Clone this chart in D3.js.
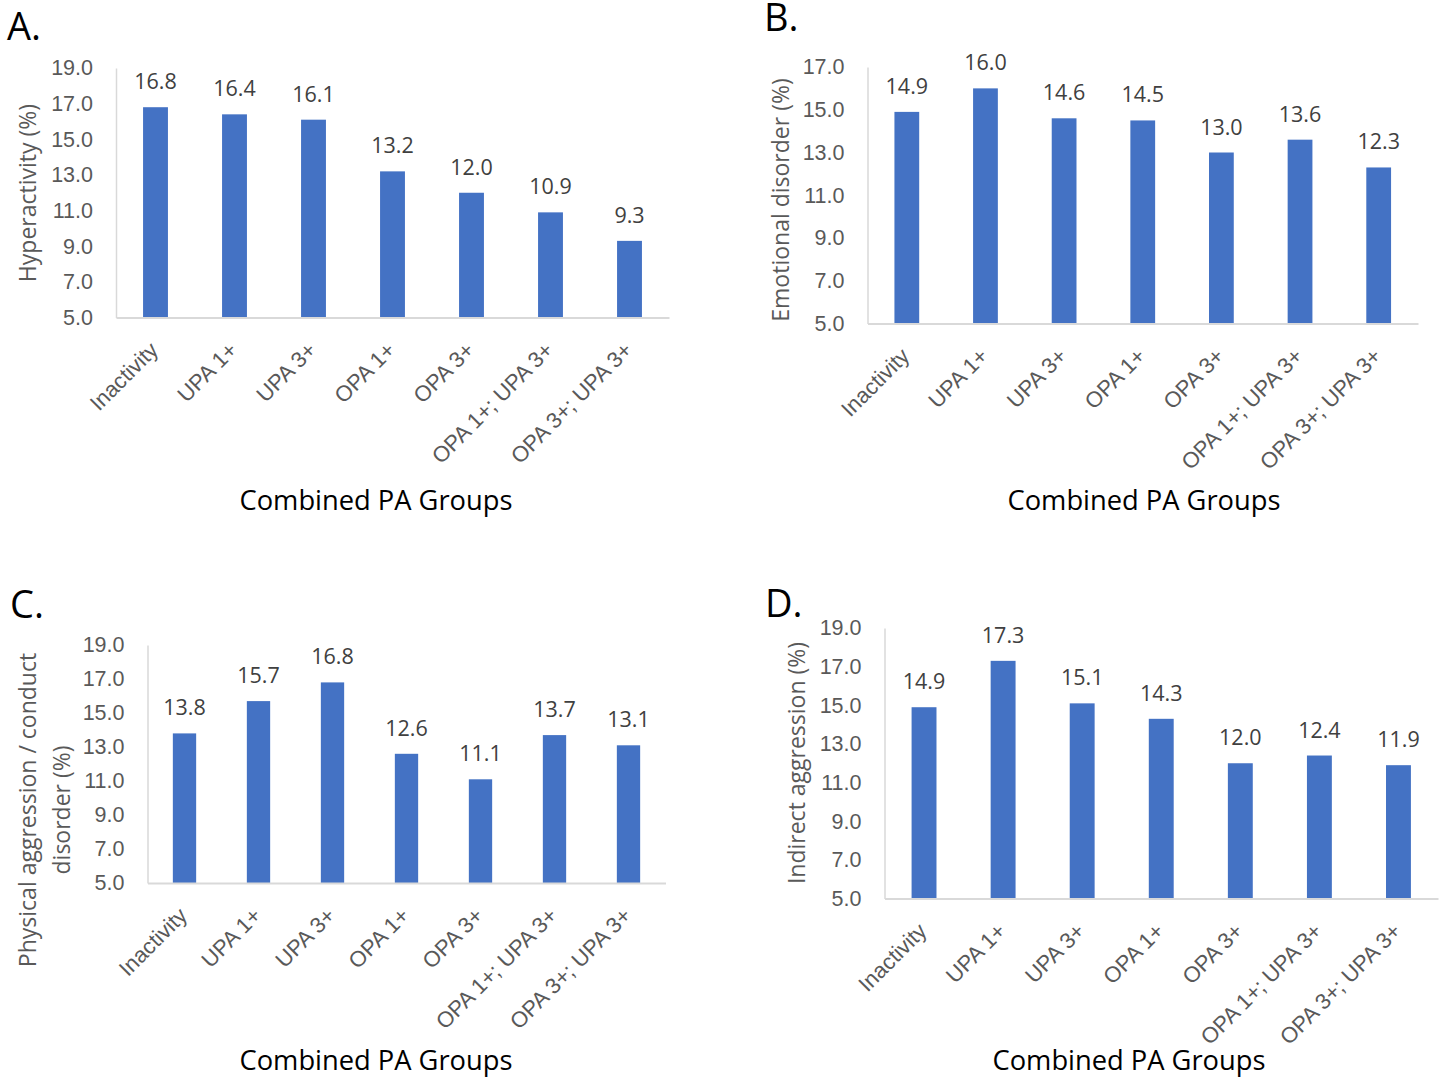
<!DOCTYPE html>
<html>
<head>
<meta charset="utf-8">
<script src="https://cdn.jsdelivr.net/npm/d3@7"></script>
<style>
  html, body { margin: 0; padding: 0; background: #fff; }
  svg { display: block; font-family: "Open Sans", "Noto Sans", sans-serif; }
</style>
</head>
<body>
<svg id="chart" width="1439" height="1078"></svg>
<script>
// ---- Data ----
const categories = ["Inactivity", "UPA 1+", "UPA 3+", "OPA 1+", "OPA 3+", "OPA 1+; UPA 3+", "OPA 3+; UPA 3+"];
const hyperactivity = [16.8, 16.4, 16.1, 13.2, 12.0, 10.9, 9.3];
const emotionalDisorder = [14.9, 16.0, 14.6, 14.5, 13.0, 13.6, 12.3];
const physicalAggression = [13.8, 15.7, 16.8, 12.6, 11.1, 13.7, 13.1];
const indirectAggression = [14.9, 17.3, 15.1, 14.3, 12.0, 12.4, 11.9];
const ticksTo19 = [5, 7, 9, 11, 13, 15, 17, 19];
const ticksTo17 = [5, 7, 9, 11, 13, 15, 17];
const xTitle = "Combined PA Groups";

// ---- Layout per panel ----
const panels = [
  { letter: "A.", lx: 7, ly: 39.5, values: hyperactivity, ticks: ticksTo19, x0: 116, x1: 669, yTop: 68, yBase: 317.5,
    yTitle: ["Hyperactivity (%)"], ytx: 28, yty: 193, xtx: 376, xty: 510 },
  { letter: "B.", lx: 764, ly: 31, values: emotionalDisorder, ticks: ticksTo17, x0: 867.5, x1: 1418, yTop: 67, yBase: 323.5,
    yTitle: ["Emotional disorder (%)"], ytx: 781, yty: 200, xtx: 1144, xty: 510 },
  { letter: "C.", lx: 10, ly: 618, values: physicalAggression, ticks: ticksTo19, x0: 147.5, x1: 665.5, yTop: 645, yBase: 883,
    yTitle: ["Physical aggression / conduct", "disorder (%)"], ytx: 45, yty: 810, xtx: 376, xty: 1070 },
  { letter: "D.", lx: 765, ly: 617, values: indirectAggression, ticks: ticksTo19, x0: 884.5, x1: 1438, yTop: 628, yBase: 898.5,
    yTitle: ["Indirect aggression (%)"], ytx: 797, yty: 763, xtx: 1129, xty: 1070 }
];

const svg = d3.select("#chart");
const barColor = "#4472C4";
const axisColor = "#D9D9D9";

panels.forEach(p => {
  const g = svg.append("g");
  const x = d3.scaleBand().domain(categories).range([p.x0, p.x1]).paddingInner(0.685).paddingOuter(0.3425);
  const y = d3.scaleLinear().domain([p.ticks[0], p.ticks[p.ticks.length - 1]]).range([p.yBase, p.yTop]);

  // panel letter
  g.append("text").attr("x", p.lx).attr("y", p.ly).attr("font-size", 38).attr("fill", "#000").text(p.letter);

  // y axis
  const yAxis = d3.axisLeft(y).tickValues(p.ticks).tickFormat(d3.format(".1f")).tickSize(0).tickPadding(23);
  const ya = g.append("g").attr("transform", `translate(${p.x0},0)`).call(yAxis);
  ya.select(".domain").attr("stroke", axisColor).attr("stroke-width", 1.5);
  ya.selectAll("text").attr("font-size", 21.5).attr("fill", "#595959").attr("font-family", null);

  // bars
  g.selectAll("rect.bar").data(p.values).join("rect")
    .attr("class", "bar")
    .attr("x", (d, i) => x(categories[i]))
    .attr("width", x.bandwidth())
    .attr("y", d => y(d))
    .attr("height", d => y(p.ticks[0]) - y(d))
    .attr("fill", barColor);

  // x axis
  const xAxis = d3.axisBottom(x).tickSize(0).tickSizeOuter(0).tickPadding(0);
  const xa = g.append("g").attr("transform", `translate(0,${p.yBase})`).call(xAxis);
  xa.select(".domain").attr("stroke", axisColor).attr("stroke-width", 2);
  xa.selectAll("text")
    .attr("font-size", 22).attr("fill", "#595959").attr("font-family", null)
    .attr("text-anchor", "end").attr("dy", null).attr("y", 0)
    .attr("transform", "translate(4,34) rotate(-45)");

  // value labels
  g.selectAll("text.val").data(p.values).join("text")
    .attr("class", "val")
    .attr("x", (d, i) => x(categories[i]) + x.bandwidth() / 2)
    .attr("y", d => y(d) - 18)
    .attr("text-anchor", "middle")
    .attr("font-size", 21.5).attr("fill", "#404040")
    .text(d => d3.format(".1f")(d));

  // y title
  const yt = g.append("text")
    .attr("transform", `translate(${p.ytx},${p.yty}) rotate(-90)`)
    .attr("text-anchor", "middle").attr("font-size", 23).attr("fill", "#595959");
  const n = p.yTitle.length;
  p.yTitle.forEach((line, i) => {
    yt.append("tspan").attr("x", 0).attr("y", (i - (n - 1) / 2) * 34).attr("dy", "0.35em").text(line);
  });

  // x title
  g.append("text").attr("x", p.xtx).attr("y", p.xty).attr("text-anchor", "middle")
    .attr("font-size", 27.3).attr("fill", "#000").text(xTitle);
});
</script>
</body>
</html>
